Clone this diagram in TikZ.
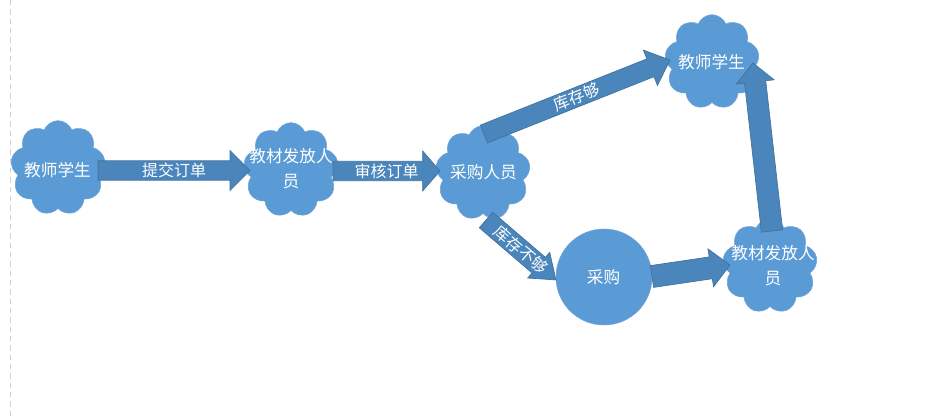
\documentclass[tikz,border=0pt]{standalone}
\usepackage{fontspec}
\newfontfamily\cjk{Noto Sans CJK SC}
\usetikzlibrary{shapes.symbols,calc}
\definecolor{cloudblue}{HTML}{5B9BD5}
\definecolor{cloudedge}{HTML}{6FA3D6}
\definecolor{arrowblue}{HTML}{4A86BB}
\definecolor{arrowedge}{HTML}{41719C}
\newcommand\blockarrow[7]{%
  \path let \p1=(#1), \p2=(#2) in \pgfextra{%
    \pgfmathsetmacro\myAng{atan2(\y2-\y1,\x2-\x1)}%
    \pgfmathsetmacro\myLen{veclen(\x2-\x1,\y2-\y1)}%
    \xdef\myAngG{\myAng}\xdef\myLenG{\myLen}};
  \begin{scope}[shift={(#1)},rotate=\myAngG]
    \draw[barrow] (0pt,-#5) -- (\myLenG pt-#7,-#5) -- (\myLenG pt-#7,-#6) -- (\myLenG pt,0pt)
      -- (\myLenG pt-#7,#6) -- (\myLenG pt-#7,#5) -- (0pt,#5) -- cycle;
    \node[albl] (#3) at (\myLenG pt/2,0pt) {#4};
  \end{scope}}
\begin{document}
\begin{tikzpicture}[x=0.75pt,y=-0.75pt,
  cloudn/.style={cloud, cloud puffs=9, cloud puff arc=135, aspect=1, fill=cloudblue,
    draw=cloudedge, line width=0.4pt, inner sep=0pt, minimum width=71pt, minimum height=71pt},
  ctext/.style={text=white, font=\cjk\fontsize{12.5}{19}\selectfont, align=center, inner sep=0pt},
  barrow/.style={fill=arrowblue, draw=arrowedge, line width=0.5pt, line join=miter},
  albl/.style={text=white, font=\cjk\fontsize{12}{14}\selectfont, inner sep=0pt, transform shape},
  guide/.style={draw=gray!35, dash pattern=on 4pt off 3pt, line width=0.6pt}]
\useasboundingbox (0,0) rectangle (927,420);
\draw[guide] (10,0) -- (10,420);
% clouds and circle
\node[cloudn, shape border rotate=10] (ts1) at (58,168) {};
\node[cloudn, shape border rotate=-5] (jc1) at (291,170) {};
\node[cloudn, shape border rotate=15] (cg1) at (483,173) {};
\node[cloudn, shape border rotate=5] (ts2) at (712,62) {};
\node[cloudn, shape border rotate=-10] (jc2) at (770,266) {};
\node[circle, fill=cloudblue, draw=cloudedge, minimum size=72pt, inner sep=0pt] (buy) at (604,277) {};
% arrow end points
\coordinate (a1s) at (98,170.5);  \coordinate (a1e) at (250,170.5);
\coordinate (a2s) at (333,171);   \coordinate (a2e) at (440,171);
\coordinate (a3s) at (484,134);   \coordinate (a3e) at (670,60);
\coordinate (a4s) at (486,220);   \coordinate (a4e) at (556,280);
\coordinate (a5s) at (772,231);   \coordinate (a5e) at (753,63);
\coordinate (a6s) at (652,276.5); \coordinate (a6e) at (730,265);
\blockarrow{a1s}{a1e}{l1}{提交订单}{7.3pt}{15pt}{15pt}
\blockarrow{a2s}{a2e}{l2}{审核订单}{7.3pt}{15pt}{13pt}
\blockarrow{a3s}{a3e}{l3}{库存够}{7.2pt}{14.3pt}{15.8pt}
\blockarrow{a4s}{a4e}{l4}{库存不够}{7.7pt}{12.7pt}{17pt}
\blockarrow{a5s}{a5e}{l5}{}{8pt}{14.3pt}{14.3pt}
\blockarrow{a6s}{a6e}{l6}{}{8.25pt}{14.4pt}{14.6pt}
% texts
\node[ctext] (ts1t) at (57.5,170) {教师学生};
\node[ctext] (jc1t) at (291,168.5) {教材发放人\\员};
\node[ctext] (cg1t) at (483.5,172) {采购人员};
\node[ctext] (ts2t) at (711.5,62) {教师学生};
\node[ctext] (jc2t) at (773,265.5) {教材发放人\\员};
\node[ctext] (buyt) at (603.5,277) {采购};
\end{tikzpicture}
\end{document}
